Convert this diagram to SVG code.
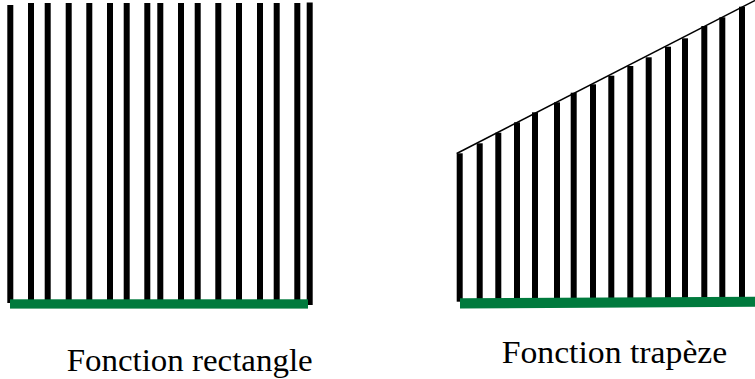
<svg xmlns="http://www.w3.org/2000/svg" width="755" height="379" viewBox="0 0 755 379">
<style>
.bar{fill:#000}
.base{fill:#007A3D}
.lbl{font-family:"Liberation Serif","Times New Roman",serif;font-size:31px;fill:#000}
</style>
<rect width="755" height="379" fill="#fff"/>
<g id="rectangle">
<rect class="bar" x="7.3" y="5" width="6" height="298"/>
<rect class="bar" x="28" y="3" width="6" height="297"/>
<rect class="bar" x="44.7" y="3" width="6" height="297"/>
<rect class="bar" x="65.7" y="3" width="6" height="297"/>
<rect class="bar" x="86.3" y="3" width="6" height="297"/>
<rect class="bar" x="107" y="3" width="6" height="297"/>
<rect class="bar" x="123.7" y="3" width="6" height="297"/>
<rect class="bar" x="144.3" y="3" width="6" height="297"/>
<rect class="bar" x="157.3" y="3" width="6" height="297"/>
<rect class="bar" x="178" y="3" width="6" height="297"/>
<rect class="bar" x="194.7" y="3" width="6" height="297"/>
<rect class="bar" x="215.3" y="3" width="6" height="297"/>
<rect class="bar" x="236" y="3" width="6" height="297"/>
<rect class="bar" x="257" y="3" width="6" height="297"/>
<rect class="bar" x="273.7" y="3" width="6" height="297"/>
<rect class="bar" x="294.3" y="3" width="6" height="297"/>
<rect class="bar" x="306.7" y="2.5" width="6" height="302.5"/>
<rect class="base" x="10" y="299.3" width="298" height="9.3"/>
<text class="lbl" x="66.7" y="370.5" textLength="246" lengthAdjust="spacingAndGlyphs">Fonction rectangle</text>
</g>
<g id="trapeze">
<rect class="bar" x="456.7" y="153.3" width="6" height="148.4"/>
<rect class="bar" x="476.7" y="143.3" width="6" height="155.7"/>
<rect class="bar" x="495.3" y="132.7" width="6" height="166.3"/>
<rect class="bar" x="514" y="122.3" width="6" height="176.7"/>
<rect class="bar" x="532" y="112.3" width="6" height="186.7"/>
<rect class="bar" x="554" y="102.3" width="6" height="196.7"/>
<rect class="bar" x="570.7" y="92.7" width="6" height="206.3"/>
<rect class="bar" x="590" y="84.3" width="6" height="214.7"/>
<rect class="bar" x="608.3" y="75.7" width="6" height="223.3"/>
<rect class="bar" x="627.3" y="66" width="6" height="233"/>
<rect class="bar" x="645.7" y="57.3" width="6" height="241.7"/>
<rect class="bar" x="665" y="46.7" width="6" height="252.3"/>
<rect class="bar" x="682" y="38.3" width="6" height="260.7"/>
<rect class="bar" x="701.3" y="26" width="6" height="273"/>
<rect class="bar" x="719.3" y="17.3" width="6" height="281.7"/>
<rect class="bar" x="739" y="6.7" width="6" height="292.3"/>
<line x1="456.7" y1="153.5" x2="755" y2="0.5" stroke="#000" stroke-width="1.5"/>
<polygon class="base" points="460,298.3 755,296.8 755,306.8 460,308.5"/>
<text class="lbl" x="501.7" y="363" textLength="225.6" lengthAdjust="spacingAndGlyphs">Fonction trapèze</text>
</g>
</svg>
